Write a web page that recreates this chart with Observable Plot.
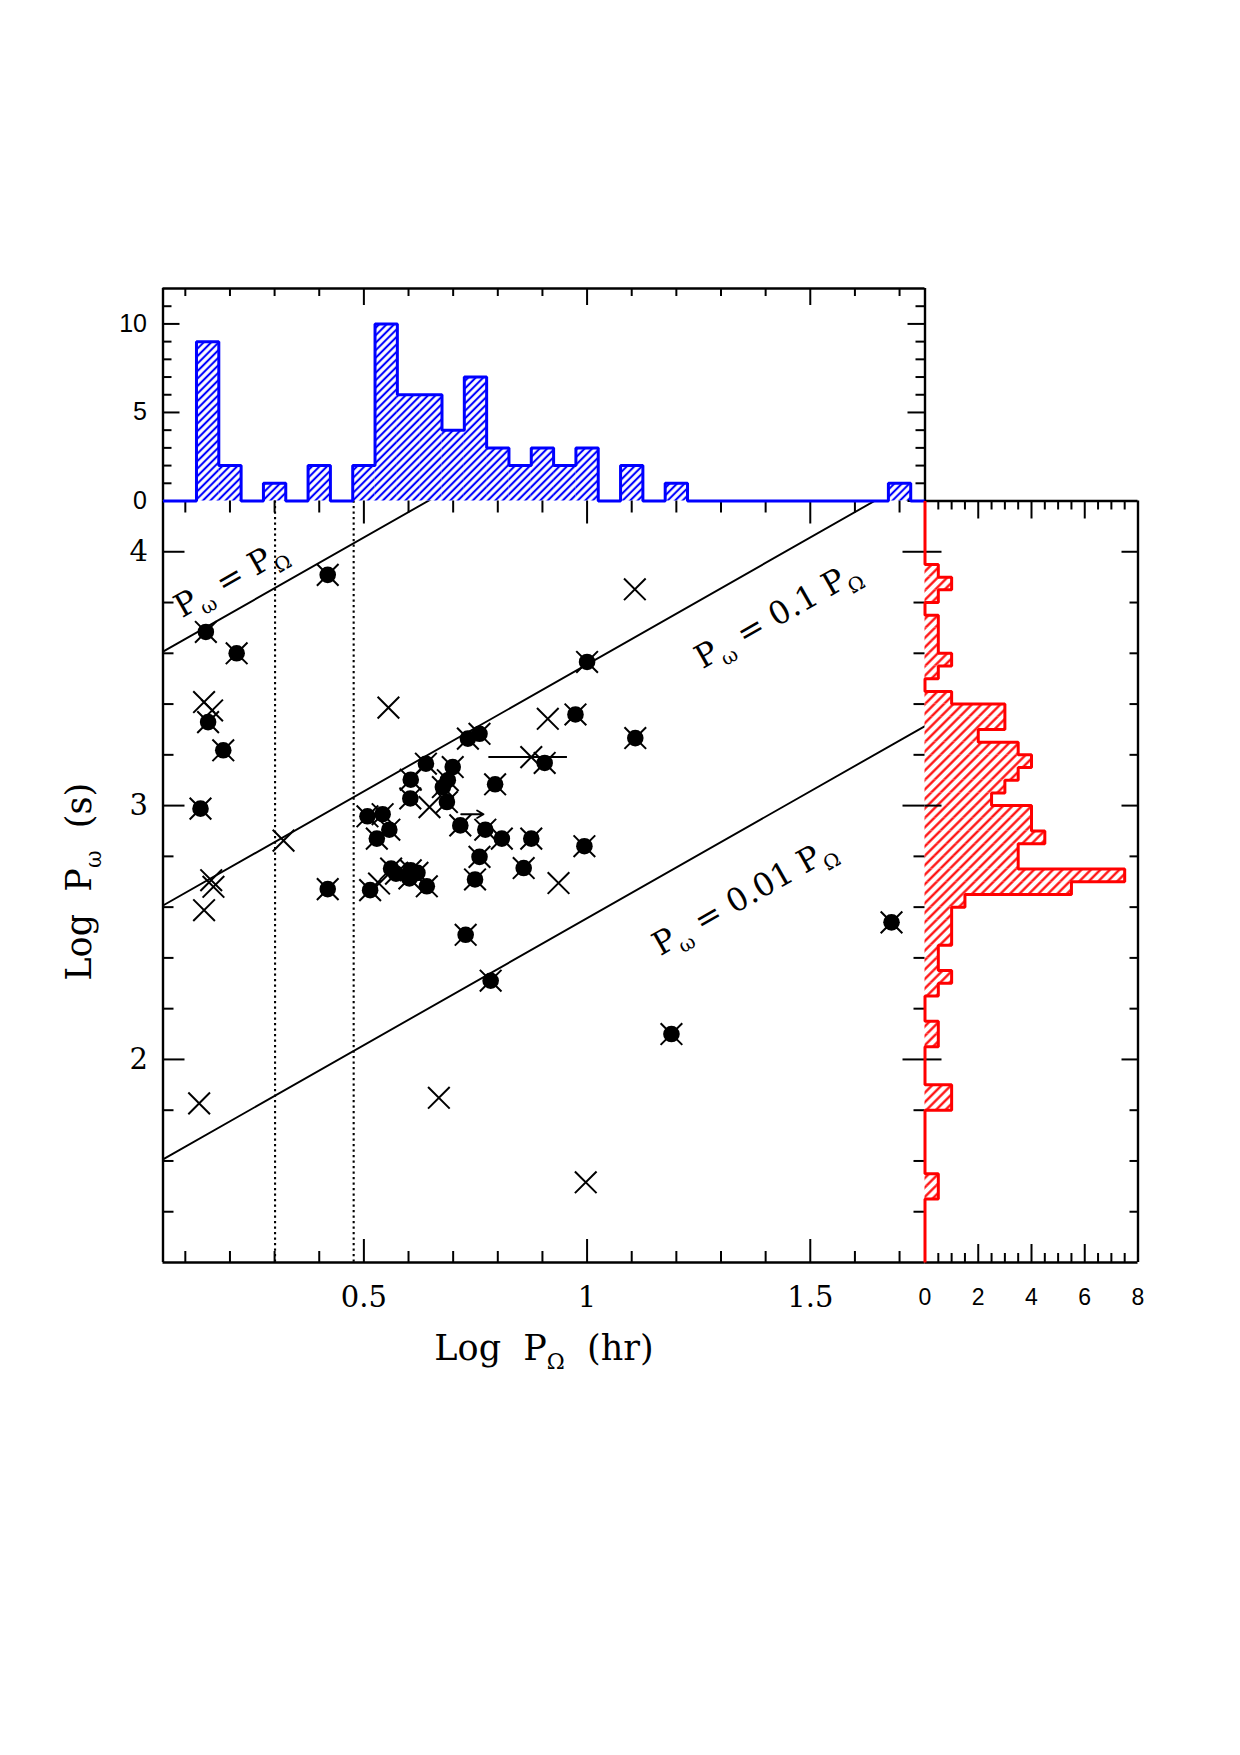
<!DOCTYPE html>
<html>
<head>
<meta charset="utf-8">
<title>Spin period versus orbital period</title>
<script src="https://cdn.jsdelivr.net/npm/d3@7"></script>
<script src="https://cdn.jsdelivr.net/npm/@observablehq/plot@0.6"></script>
<style>
  html, body { margin: 0; padding: 0; background: #fff; }
  #page { position: relative; width: 1240px; height: 1755px; background: #fff; overflow: hidden; }
  #page > svg { position: absolute; overflow: visible; max-width: none; }
</style>
</head>
<body>
<svg width="0" height="0" style="position:absolute" aria-hidden="true">
  <defs>
    <pattern id="hatch-blue" patternUnits="userSpaceOnUse" width="5.3" height="10" patternTransform="rotate(45)">
      <line x1="2.65" y1="-1" x2="2.65" y2="11" stroke="#0000ff" stroke-width="2.1"/>
    </pattern>
    <pattern id="hatch-red" patternUnits="userSpaceOnUse" width="6.7" height="10" patternTransform="rotate(45)">
      <line x1="3.35" y1="-1" x2="3.35" y2="11" stroke="#ff0000" stroke-width="2.2"/>
    </pattern>
  </defs>
</svg>
<div id="page"></div>
<script>
// ---------------------------------------------------------------- data ----
// Confirmed systems: log orbital period (hr) and log spin period (s)
const filledLogPorb = [0.419, 0.146, 0.215, 0.151, 0.185, 0.134, 1.000, 0.974, 1.108, 0.733,
  0.759, 0.905, 0.639, 0.699, 0.605, 0.794, 0.688, 0.677, 0.604, 0.686,
  0.716, 0.508, 0.542, 0.557, 0.529, 0.772, 0.809, 0.875, 0.994, 0.759,
  0.858, 0.561, 0.572, 0.605, 0.620, 0.602, 0.641, 0.749, 0.514, 0.419,
  0.728, 0.784, 1.682, 1.189];
const filledLogPspin = [3.909, 3.684, 3.600, 3.329, 3.218, 2.988, 3.566, 3.359, 3.266, 3.264,
  3.283, 3.168, 3.165, 3.152, 3.102, 3.084, 3.100, 3.073, 3.028, 3.014,
  2.922, 2.958, 2.966, 2.905, 2.870, 2.905, 2.870, 2.870, 2.840, 2.798,
  2.754, 2.752, 2.732, 2.745, 2.735, 2.713, 2.682, 2.709, 2.667, 2.671,
  2.491, 2.310, 2.540, 2.100];

// Candidate systems (cross only)
const crossLogPorb = [0.142, 0.160, 0.555, 1.107, 0.912, 0.875, 0.647, 0.320,
  0.158, 0.163, 0.142, 0.534, 0.936, 0.131, 0.668, 0.997];
const crossLogPspin = [3.408, 3.375, 3.386, 3.852, 3.342, 3.191, 2.994, 2.862,
  2.706, 2.680, 2.588, 2.693, 2.695, 1.827, 1.849, 1.516];

// One system with an uncertain orbital period, one with a lower limit only
const porbRange = {logPspin: 3.191, low: 0.780, high: 0.956};
const porbLowerLimit = {logPspin: 2.966, from: 0.718, to: 0.768};

// Edges of the period gap (hr) and the spin/orbit ratios drawn as lines
const periodGapHours = [2, 3];
const spinToOrbitRatios = [1, 0.1, 0.01];

// Orbital-period histogram: bin centres in log P_Ω (hr), counts
const orbitBinWidth = 0.05;
const orbitBinCentres = [0.15, 0.20, 0.30, 0.40, 0.50, 0.55, 0.60, 0.65, 0.70, 0.75,
  0.80, 0.85, 0.90, 0.95, 1.00, 1.10, 1.20, 1.70];
const orbitCounts = [9, 2, 1, 2, 2, 10, 6, 6, 4, 7, 3, 2, 3, 2, 3, 2, 1, 1];

// Spin-period histogram: bin centres in log P_ω (s), counts
const spinBinWidth = 0.05;
const spinBinCentres = [3.925, 3.875, 3.825, 3.725, 3.675, 3.625, 3.575, 3.525, 3.425, 3.375,
  3.325, 3.275, 3.225, 3.175, 3.125, 3.075, 3.025, 2.975, 2.925, 2.875,
  2.825, 2.775, 2.725, 2.675, 2.625, 2.575, 2.525, 2.475, 2.425, 2.375,
  2.325, 2.275, 2.125, 2.075, 1.875, 1.825, 1.525, 1.475];
const spinCounts = [0.5, 1, 0.5, 0.5, 0.5, 0.5, 1, 0.5, 1, 3,
  3, 2, 3.5, 4, 3.5, 3, 2.5, 4, 4, 4.5,
  3.5, 3.5, 7.5, 5.5, 1.5, 1, 1, 1, 0.5, 0.5,
  1, 0.5, 0.5, 0.5, 1, 1, 0.5, 0.5];

// Axis ranges and labelled ticks
const X_DOMAIN = [0.05, 1.757];
const Y_DOMAIN = [1.2, 4.2];
const ORBIT_COUNT_DOMAIN = [0, 12];
const SPIN_COUNT_DOMAIN = [0, 8];
const xTickLabels = [0.5, 1, 1.5];
const yTickLabels = [2, 3, 4];
const orbitCountLabels = [0, 5, 10];
const spinCountLabels = [0, 2, 4, 6, 8];

// ------------------------------------------------------------- styling ----
const SERIF = "'DejaVu Serif', 'Liberation Serif', serif";
const SANS = "'Liberation Sans', Arial, Helvetica, sans-serif";
const BLUE = "#0000ff";
const RED = "#ff0000";
const FRAME_W = 2.4;
const TICK_W = 2;

const page = document.getElementById("page");
function place(svg, left, topPx) {
  svg.style.left = left + "px";
  svg.style.top = topPx + "px";
  page.appendChild(svg);
}

// Short inward ticks along one side of a panel, drawn as clipped rules
function sideTicks(values, side, len, inner, opts = {}) {
  const o = {stroke: "black", strokeWidth: TICK_W, ...opts};
  if (side === "bottom") return Plot.ruleX(values, {x: d => d, insetTop: inner - len, ...o});
  if (side === "top") return Plot.ruleX(values, {x: d => d, insetBottom: inner - len, ...o});
  if (side === "left") return Plot.ruleY(values, {y: d => d, insetRight: inner - len, ...o});
  return Plot.ruleY(values, {y: d => d, insetLeft: inner - len, ...o});
}
const isMultiple = (v, step) => Math.abs(v / step - Math.round(v / step)) < 1e-9;

// Step outline of a histogram, including the zero baseline across the range
function histogramOutline(centres, counts, width, domain) {
  const byKey = new Map(centres.map((c, i) => [Math.round(c * 1000), counts[i]]));
  const lo0 = d3.min(centres) - width / 2;
  const nBins = Math.round((d3.max(centres) - d3.min(centres)) / width) + 1;
  const pts = [{v: domain[0], n: 0}, {v: lo0, n: 0}];
  for (let i = 0; i < nBins; i++) {
    const lo = lo0 + i * width;
    const n = byKey.get(Math.round((lo + width / 2) * 1000)) ?? 0;
    pts.push({v: lo, n}, {v: lo + width, n});
  }
  pts.push({v: lo0 + nBins * width, n: 0}, {v: domain[1], n: 0});
  return pts;
}

// Turn "P_ω" style markup into subscript tspans
function applySubscripts(svg) {
  svg.querySelectorAll("text").forEach(t => {
    const s = t.textContent;
    if (!s.includes("_")) return;
    while (t.firstChild) t.removeChild(t.firstChild);
    t.style.whiteSpace = "pre";
    const parts = s.split(/(_.)/u).filter(p => p.length);
    let lowered = false;
    for (const p of parts) {
      const ts = document.createElementNS("http://www.w3.org/2000/svg", "tspan");
      if (p.startsWith("_")) {
        ts.textContent = p.slice(1);
        ts.setAttribute("font-size", "0.62em");
        ts.setAttribute("dy", (0.28 / 0.62).toFixed(3) + "em");
        lowered = true;
      } else {
        ts.textContent = p;
        if (lowered) ts.setAttribute("dy", "-0.28em");
        lowered = false;
      }
      t.appendChild(ts);
    }
  });
}

// ------------------------------------------------------- main scatter ----
const M = {width: 960, height: 960, left: 0, top: 440,
  marginLeft: 162.5, marginRight: 35.5, marginTop: 60.5, marginBottom: 138};
const mW = M.width - M.marginLeft - M.marginRight;
const mH = M.height - M.marginTop - M.marginBottom;

const filled = filledLogPorb.map((x, i) => ({x, y: filledLogPspin[i]}));
const crosses = crossLogPorb.map((x, i) => ({x, y: crossLogPspin[i]}));
const allPoints = filled.concat(crosses);

const relationLines = spinToOrbitRatios.flatMap(k =>
  X_DOMAIN.map(x => ({k, x, y: x + Math.log10(3600 * k)})));

const pxPerX = mW / (X_DOMAIN[1] - X_DOMAIN[0]);
const pxPerY = mH / (Y_DOMAIN[1] - Y_DOMAIN[0]);
const slope = Math.atan(pxPerY / pxPerX);
const slopeDeg = slope * 180 / Math.PI;

const relationLabels = [
  {k: 1, text: "P_ω = P_Ω", at: 0.234, offset: 30},
  {k: 0.1, text: "P_ω = 0.1 P_Ω", at: 1.370, offset: -51},
  {k: 0.01, text: "P_ω = 0.01 P_Ω", at: 1.286, offset: -59}
];

const xTicks = d3.range(1, 18).map(i => i / 10);
const yTicks = d3.range(7, 21).map(i => i / 5);
const xMajor = xTicks.filter(v => isMultiple(v, 0.5));
const xMinor = xTicks.filter(v => !isMultiple(v, 0.5));
const yMajor = yTicks.filter(v => isMultiple(v, 1));
const yMinor = yTicks.filter(v => !isMultiple(v, 1));

const mainSvg = Plot.plot({
  width: M.width, height: M.height,
  marginLeft: M.marginLeft, marginRight: M.marginRight,
  marginTop: M.marginTop, marginBottom: M.marginBottom,
  x: {domain: X_DOMAIN},
  y: {domain: Y_DOMAIN},
  style: {fontFamily: SERIF, fontSize: "29px", color: "black", background: "transparent", overflow: "visible"},
  marks: [
    Plot.ruleX(periodGapHours, {x: h => Math.log10(h), stroke: "black", strokeWidth: 2.1, strokeDasharray: "2.2,3.3"}),
    Plot.line(relationLines, {x: "x", y: "y", z: "k", stroke: "black", strokeWidth: 1.9, clip: true}),
    Plot.ruleY([porbRange], {y: "logPspin", x1: "low", x2: "high", stroke: "black", strokeWidth: 2}),
    Plot.arrow([porbLowerLimit], {x1: "from", x2: "to", y1: "logPspin", y2: "logPspin",
      stroke: "black", strokeWidth: 1.8, headLength: 10}),
    Plot.dot(filled, {x: "x", y: "y", r: 8.3, fill: "black", stroke: "none"}),
    Plot.dot(allPoints, {x: "x", y: "y", symbol: "times", r: 9.9, stroke: "black", strokeWidth: 2}),
    // frame (top edge is the orbital histogram baseline, right edge the spin one)
    Plot.ruleX([X_DOMAIN[0]], {stroke: "black", strokeWidth: FRAME_W}),
    Plot.ruleY([Y_DOMAIN[0]], {stroke: "black", strokeWidth: FRAME_W}),
    sideTicks(xMinor, "bottom", 11, mH), sideTicks(xMajor, "bottom", 23, mH),
    sideTicks(xMinor, "top", 12, mH), sideTicks(xMajor, "top", 23, mH),
    sideTicks(yMinor, "left", 11, mW), sideTicks(yMajor, "left", 22, mW),
    sideTicks(yMinor, "right", 11, mW), sideTicks(yMajor, "right", 22, mW),
    Plot.axisX({ticks: xTickLabels, tickSize: 0, tickPadding: 24, tickFormat: d => String(d), label: null,
      fontSize: 29, style: {letterSpacing: "1.5px"}}),
    Plot.axisY({ticks: yTickLabels, tickSize: 0, tickPadding: 15, tickFormat: d => String(d), label: null, fontSize: 29}),
    ...relationLabels.map(L => Plot.text([L], {
      x: "at", y: d => d.at + Math.log10(3600 * d.k), text: "text",
      rotate: -slopeDeg, fontSize: 32,
      dx: -L.offset * Math.sin(slope), dy: -L.offset * Math.cos(slope)
    })),
    Plot.text(["Log  P_Ω  (hr)"], {frameAnchor: "bottom", text: d => d, dy: 97,
      textAnchor: "middle", lineAnchor: "bottom", fontSize: 35}),
    Plot.text(["Log  P_ω  (s)"], {frameAnchor: "left", text: d => d, dx: -83, rotate: -90,
      textAnchor: "middle", lineAnchor: "middle", fontSize: 35})
  ]
});
applySubscripts(mainSvg);
place(mainSvg, M.left, M.top);

// ------------------------------------------- orbital-period histogram ----
const T = {width: 960, height: 260, left: 0, top: 250,
  marginLeft: 162.5, marginRight: 35.5, marginTop: 38, marginBottom: 9.5};
const tW = T.width - T.marginLeft - T.marginRight;
const tH = T.height - T.marginTop - T.marginBottom;

const orbitBins = orbitBinCentres.map((c, i) => ({c, n: orbitCounts[i]}));
const orbitOutline = histogramOutline(orbitBinCentres, orbitCounts, orbitBinWidth, X_DOMAIN);
const countTicks = d3.range(0, 12);

const orbitSvg = Plot.plot({
  width: T.width, height: T.height,
  marginLeft: T.marginLeft, marginRight: T.marginRight,
  marginTop: T.marginTop, marginBottom: T.marginBottom,
  x: {domain: X_DOMAIN, axis: null},
  y: {domain: ORBIT_COUNT_DOMAIN},
  style: {fontFamily: SANS, fontSize: "25px", color: "black", background: "transparent", overflow: "visible"},
  marks: [
    Plot.rect(orbitBins, {x1: d => d.c - orbitBinWidth / 2, x2: d => d.c + orbitBinWidth / 2,
      y1: 0, y2: "n", fill: "url(#hatch-blue)"}),
    Plot.ruleX(X_DOMAIN, {stroke: "black", strokeWidth: FRAME_W}),
    Plot.ruleY([ORBIT_COUNT_DOMAIN[1]], {stroke: "black", strokeWidth: FRAME_W}),
    sideTicks(countTicks.filter(v => v % 5 !== 0), "left", 9, tW),
    sideTicks(countTicks.filter(v => v % 5 === 0), "left", 17, tW),
    sideTicks(countTicks.filter(v => v % 5 !== 0), "right", 9, tW),
    sideTicks(countTicks.filter(v => v % 5 === 0), "right", 17, tW),
    sideTicks(xMinor, "top", 8, tH), sideTicks(xMajor, "top", 17, tH),
    Plot.line(orbitOutline, {x: "v", y: "n", stroke: BLUE, strokeWidth: 3,
      strokeLinejoin: "miter", strokeLinecap: "butt"}),
    Plot.axisY({ticks: orbitCountLabels, tickSize: 0, tickPadding: 16, label: null, fontSize: 25})
  ]
});
place(orbitSvg, T.left, T.top);

// ---------------------------------------------- spin-period histogram ----
const R = {width: 280, height: 960, left: 900, top: 440,
  marginLeft: 24.5, marginRight: 42.5, marginTop: 60.5, marginBottom: 138};
const rW = R.width - R.marginLeft - R.marginRight;
const rH = R.height - R.marginTop - R.marginBottom;

const spinBins = spinBinCentres.map((c, i) => ({c, n: spinCounts[i]}));
const spinOutline = histogramOutline(spinBinCentres, spinCounts, spinBinWidth, Y_DOMAIN);
const spinCountTicks = d3.range(1, 16).map(i => i / 2);

const spinSvg = Plot.plot({
  width: R.width, height: R.height,
  marginLeft: R.marginLeft, marginRight: R.marginRight,
  marginTop: R.marginTop, marginBottom: R.marginBottom,
  x: {domain: SPIN_COUNT_DOMAIN},
  y: {domain: Y_DOMAIN, axis: null},
  style: {fontFamily: SANS, fontSize: "23px", color: "black", background: "transparent", overflow: "visible"},
  marks: [
    Plot.rect(spinBins, {x1: 0, x2: "n", y1: d => d.c - spinBinWidth / 2, y2: d => d.c + spinBinWidth / 2,
      fill: "url(#hatch-red)"}),
    Plot.ruleY(Y_DOMAIN, {stroke: "black", strokeWidth: FRAME_W}),
    Plot.ruleX([SPIN_COUNT_DOMAIN[1]], {stroke: "black", strokeWidth: FRAME_W}),
    sideTicks(yMinor, "right", 8, rW), sideTicks(yMajor, "right", 16, rW),
    sideTicks(yMajor, "left", 17, rW),
    sideTicks(spinCountTicks.filter(v => !isMultiple(v, 2)), "top", 9, rH),
    sideTicks(spinCountTicks.filter(v => isMultiple(v, 2)), "top", 18, rH),
    sideTicks(spinCountTicks.filter(v => !isMultiple(v, 2)), "bottom", 9, rH),
    sideTicks(spinCountTicks.filter(v => isMultiple(v, 2)), "bottom", 18, rH),
    Plot.line(spinOutline, {x: "n", y: "v", stroke: RED, strokeWidth: 3,
      strokeLinejoin: "miter", strokeLinecap: "butt"}),
    Plot.axisX({ticks: spinCountLabels, tickSize: 0, tickPadding: 26, label: null, fontSize: 23})
  ]
});
place(spinSvg, R.left, R.top);
</script>
</body>
</html>
